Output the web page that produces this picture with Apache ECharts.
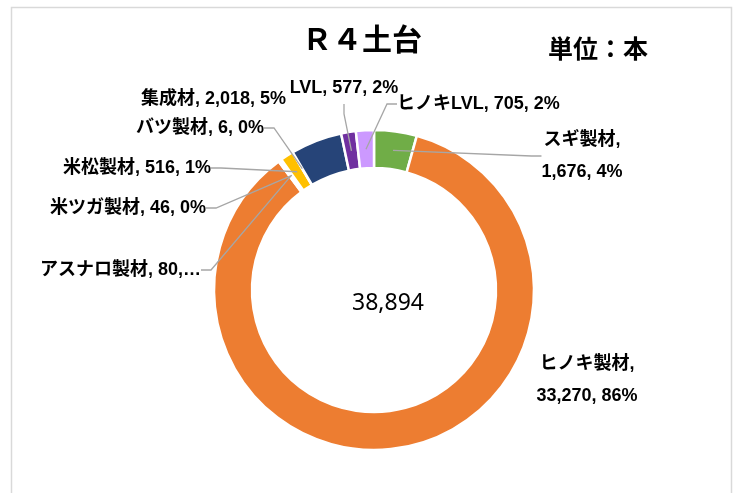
<!DOCTYPE html>
<html>
<head>
<meta charset="utf-8">
<script src="https://cdn.jsdelivr.net/npm/echarts@6/dist/echarts.min.js"></script>
<style>
html,body{margin:0;padding:0;background:#fff;}
#chart{width:737px;height:493px;}
</style>
</head>
<body>
<div id="chart"></div>
<script>
// ---- data ----
const categories = ['スギ製材','ヒノキ製材','アスナロ製材','米ツガ製材','米松製材','バツ製材','集成材','LVL','ヒノキLVL'];
const values = [1676, 33270, 80, 46, 516, 6, 2018, 577, 705];
const titleText = 'Ｒ４土台';
const unitText = '単位：本';

// ---- styles / layout ----
const colors = ['#70AD47','#ED7D31','#A5A5A5','#5B9BD5','#FFC000','#4472C4','#264478','#7030A0','#CC99FF'];
const labelPos = [
  {x: 582, y: 156, align: 'center'},
  {x: 587, y: 380, align: 'center'},
  {x: 201, y: 270, align: 'right'},
  {x: 206, y: 208, align: 'right'},
  {x: 211, y: 168, align: 'right'},
  {x: 264, y: 128, align: 'right'},
  {x: 286, y: 99,  align: 'right'},
  {x: 344, y: 88,  align: 'center'},
  {x: 397, y: 104, align: 'left'}
];
const twoLine = [true, true, false, false, false, false, false, false, false];
const truncated = [false, false, true, false, false, false, false, false, false];
const noLine = [false, true, false, false, false, false, true, false, false];
const CX = 374, CY = 290, R_IN = 122, R_OUT = 160;
const FONT = '"Liberation Sans", "Noto Sans CJK JP", sans-serif';

const fmt = v => v.toLocaleString('en-US');
const total = values.reduce((a, b) => a + b, 0);

const ringData = categories.map((n, i) => ({name: n, value: values[i], itemStyle: {color: colors[i]}}));
const labelData = categories.map((n, i) => ({
  name: n, value: values[i],
  labelLine: {show: !noLine[i]}
}));

const chart = echarts.init(document.getElementById('chart'), null, {renderer: 'canvas'});
chart.setOption({
  animation: false,
  backgroundColor: '#fff',
  title: [
    {text: titleText, left: 297, top: 19, textStyle: {fontFamily: '"Noto Sans CJK JP"', fontSize: 30, fontWeight: 'bold', color: '#000'}},
    {text: unitText, left: 543, top: 31, textStyle: {fontFamily: '"Noto Sans CJK JP"', fontSize: 25, fontWeight: 'bold', color: '#000'}}
  ],
  graphic: [
    {type: 'rect', left: 9, top: 5, shape: {width: 720, height: 500}, style: {fill: 'none', stroke: '#d9d9d9', lineWidth: 1.5}, silent: true, z: -1},
    {type: 'text', x: 388, y: 303, style: {text: fmt(total), fontFamily: '"Noto Sans", sans-serif', fontSize: 23, fill: '#000', textAlign: 'center', textVerticalAlign: 'middle'}, silent: true}
  ],
  series: [
    {
      type: 'pie',
      center: [CX, CY],
      radius: [R_IN, R_OUT],
      startAngle: 90,
      clockwise: true,
      silent: true,
      percentPrecision: 0,
      label: {show: false},
      labelLine: {show: false},
      itemStyle: {borderColor: '#fff', borderWidth: 2.5},
      emphasis: {disabled: true},
      data: ringData,
      z: 2
    },
    {
      type: 'pie',
      center: [CX, CY],
      radius: [0, (R_IN + R_OUT) / 2],
      startAngle: 90,
      clockwise: true,
      silent: true,
      percentPrecision: 0,
      itemStyle: {color: 'rgba(0,0,0,0)', borderWidth: 0},
      emphasis: {disabled: true},
      label: {
        show: true,
        position: 'outside',
        fontFamily: FONT,
        fontSize: 18,
        fontWeight: 'bold',
        color: '#000',
        lineHeight: 32,
        formatter: p => {
          const i = p.dataIndex;
          if (truncated[i]) return p.name + ', ' + fmt(p.value) + ',…';
          const sep = twoLine[i] ? ',\n' : ', ';
          return p.name + sep + fmt(p.value) + ', ' + p.percent + '%';
        }
      },
      labelLine: {show: true, length: 10, length2: 10, lineStyle: {color: '#A6A6A6', width: 1.3}},
      labelLayout: p => {
        if (p.seriesIndex !== 1) return {};
        const lp = labelPos[p.dataIndex];
        return {x: lp.x, y: lp.y, align: lp.align, verticalAlign: 'middle'};
      },
      data: labelData,
      z: 5
    }
  ]
});
</script>
</body>
</html>
